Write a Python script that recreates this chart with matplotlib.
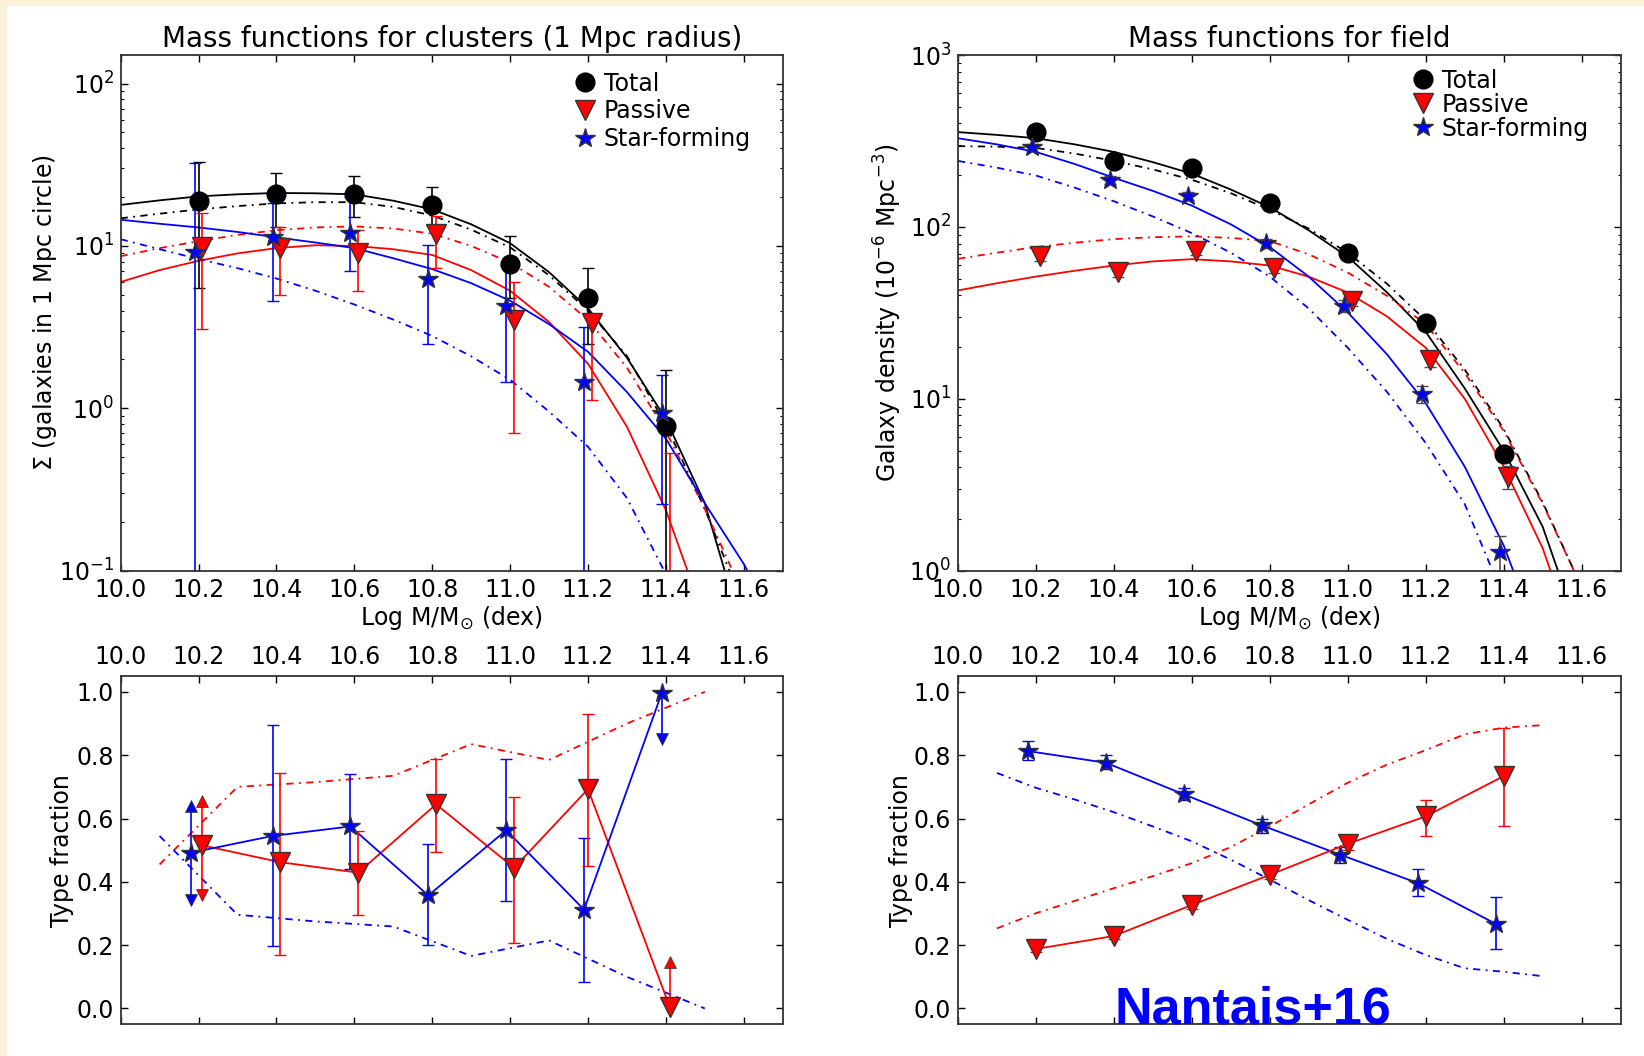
import numpy as np
import matplotlib
matplotlib.use("Agg")
import matplotlib.pyplot as plt
from matplotlib.patches import Rectangle

# ---------------- data ----------------
# top left: clusters (1 Mpc radius)
cl_tot_x = [10.2, 10.4, 10.6, 10.8, 11.0, 11.2, 11.4]
cl_tot_y = [18.8, 20.8, 21.0, 17.8, 7.74, 4.75, 0.775]
cl_tot_lo = [5.5, 13.0, 15.0, 13.5, 4.8, 2.5, 0.0]
cl_tot_hi = [33.0, 28.3, 27.0, 23.2, 11.5, 7.3, 1.71]

cl_pas_x = [10.21, 10.41, 10.61, 10.81, 11.01, 11.21, 11.41]
cl_pas_y = [9.85, 9.7, 9.05, 11.8, 3.49, 3.34, 0.0]
cl_pas_lo = [3.08, 5.0, 5.3, 7.3, 0.705, 1.12, 0.0]
cl_pas_hi = [15.9, 13.0, 12.5, 15.4, 6.0, 3.7, 0.53]

cl_sf_x = [10.19, 10.39, 10.59, 10.79, 10.99, 11.19, 11.39]
cl_sf_y = [9.16, 11.3, 12.0, 6.29, 4.29, 1.46, 0.93]
cl_sf_lo = [0.0, 4.6, 7.0, 2.49, 1.46, 0.0, 0.257]
cl_sf_hi = [32.4, 18.3, 19.9, 10.1, 7.6, 3.15, 1.61]

# curves sampled every 0.1 dex: fits (solid) and models (dash-dot)
curve_x = [10.0, 10.1, 10.2, 10.3, 10.4, 10.5, 10.6, 10.7, 10.8, 10.9,
           11.0, 11.1, 11.2, 11.3, 11.4, 11.5, 11.6, 11.7]
cl_tot_fit = [17.9, 19.1, 20.2, 20.8, 21.2, 21.1, 20.8, 19.0, 16.8, 13.6,
              10.4, 6.9, 4.13, 2.05, 0.857, 0.26, 0.04, 0.005]
cl_tot_mod = [14.8, 15.8, 16.8, 17.6, 18.3, 18.6, 18.6, 17.4, 15.4, 12.6,
              9.8, 6.6, 4.0, 2.1, 0.79, 0.24, 0.06, 0.01]
cl_pas_fit = [6.0, 7.1, 8.1, 9.0, 9.7, 10.1, 10.0, 9.55, 8.8, 7.1,
              5.3, 3.4, 1.88, 0.77, 0.236, 0.05, 0.006, 0.001]
cl_pas_mod = [8.65, 9.7, 10.7, 11.7, 12.5, 13.0, 13.2, 12.8, 11.9, 10.0,
              7.9, 5.6, 3.5, 1.78, 0.72, 0.24, 0.07, 0.01]
cl_sf_fit = [14.5, 13.7, 13.0, 12.2, 11.3, 10.5, 9.7, 8.4, 7.2, 5.9,
             4.6, 3.3, 2.23, 1.26, 0.65, 0.26, 0.11, 0.04]
cl_sf_mod = [11.0, 9.55, 8.3, 7.3, 6.3, 5.3, 4.36, 3.52, 2.79, 2.09,
             1.5, 0.955, 0.58, 0.28, 0.095, 0.02, 0.003, 0.0005]

# top right: field
fd_tot_x = [10.2, 10.4, 10.6, 10.8, 11.0, 11.2, 11.4]
fd_tot_y = [355, 243, 221, 138, 70.6, 27.5, 4.78]
fd_tot_err = [15, 12, 10, 7, 4, 2, 0.5]

fd_pas_x = [10.21, 10.41, 10.61, 10.81, 11.01, 11.21, 11.41]
fd_pas_y = [67.6, 54.7, 72.4, 57.7, 37.0, 16.9, 3.53]
fd_pas_err = [4, 3.5, 4, 3.5, 2.5, 1.5, 0.55]

fd_sf_x = [10.19, 10.39, 10.59, 10.79, 10.99, 11.19, 11.39]
fd_sf_y = [290, 188, 151, 80.5, 34.8, 10.7, 1.29]
fd_sf_err = [14, 10, 8, 5, 3, 1.2, 0.3]

fd_tot_fit = [356, 343, 328, 302, 273, 238, 204, 165, 130, 95.5,
              67, 41.7, 24.5, 11.5, 4.98, 1.8, 0.4, 0.05]
fd_tot_mod = [295, 293, 288, 267, 242, 216, 188, 157, 126, 97.7,
              70.6, 46.8, 28.6, 14.8, 6.67, 2.5, 0.8, 0.15]
fd_pas_fit = [42.7, 47, 51.4, 55.6, 59.6, 63, 64.9, 63, 59.6, 51.3,
              41.5, 30.2, 19.8, 10, 4.03, 1.35, 0.3, 0.04]
fd_pas_mod = [65.2, 70.8, 76.4, 80.9, 84.9, 87.1, 88.1, 86.3, 82.7, 69.2,
              54.2, 39.8, 27.2, 14.1, 6.49, 2.45, 0.8, 0.15]
fd_sf_fit = [328, 302, 273, 232, 193, 162, 133, 103.5, 76.4, 51.3,
             31.8, 18.2, 9.42, 4.03, 1.40, 0.35, 0.05, 0.005]
fd_sf_mod = [242, 221, 199, 169, 141, 115, 92, 70.8, 51.4, 33.5,
             19.8, 11.0, 5.53, 2.44, 0.7, 0.2, 0.03, 0.003]

# bottom left: type fractions, clusters
fc_sf_x = [10.18, 10.39, 10.59, 10.79, 10.99, 11.19, 11.39]
fc_sf_y = [0.492, 0.545, 0.575, 0.357, 0.563, 0.312, 0.998]
fc_sf_lo = [0.344, 0.196, 0.441, 0.201, 0.339, 0.085, 0.852]
fc_sf_hi = [0.640, 0.894, 0.741, 0.519, 0.788, 0.540, 0.998]

fc_pas_x = [10.21, 10.41, 10.61, 10.81, 11.01, 11.2, 11.41]
fc_pas_y = [0.515, 0.462, 0.429, 0.645, 0.444, 0.693, 0.005]
fc_pas_lo = [0.360, 0.169, 0.296, 0.495, 0.206, 0.450, 0.005]
fc_pas_hi = [0.656, 0.744, 0.560, 0.788, 0.667, 0.929, 0.148]

fc_mod_x = [10.1, 10.3, 10.5, 10.7, 10.9, 11.1, 11.3, 11.5]
fc_pas_mod = [0.455, 0.70, 0.715, 0.735, 0.835, 0.785, 0.90, 1.0]
fc_sf_mod = [0.545, 0.296, 0.275, 0.259, 0.166, 0.215, 0.10, 0.0]

# bottom right: type fractions, field
ff_sf_x = [10.18, 10.38, 10.58, 10.78, 10.98, 11.18, 11.38]
ff_sf_y = [0.813, 0.776, 0.676, 0.578, 0.486, 0.396, 0.267]
ff_sf_lo = [0.784, 0.755, 0.660, 0.555, 0.460, 0.356, 0.187]
ff_sf_hi = [0.845, 0.800, 0.695, 0.600, 0.510, 0.440, 0.351]

ff_pas_x = [10.2, 10.4, 10.6, 10.8, 11.0, 11.2, 11.4]
ff_pas_y = [0.188, 0.229, 0.327, 0.422, 0.520, 0.607, 0.734]
ff_pas_lo = [0.178, 0.219, 0.315, 0.410, 0.500, 0.546, 0.575]
ff_pas_hi = [0.198, 0.239, 0.339, 0.434, 0.540, 0.657, 0.885]

ff_mod_x = [10.1, 10.2, 10.3, 10.4, 10.5, 10.6, 10.7, 10.8, 10.9, 11.0, 11.1, 11.2, 11.3, 11.4, 11.5]
ff_pas_mod = [0.253, 0.301, 0.34, 0.38, 0.418, 0.459, 0.51, 0.575, 0.645, 0.713, 0.77, 0.816, 0.866, 0.887, 0.895]
ff_sf_mod = [0.744, 0.697, 0.66, 0.62, 0.575, 0.528, 0.47, 0.407, 0.342, 0.28, 0.22, 0.169, 0.127, 0.116, 0.102]

xticks = [10.0, 10.2, 10.4, 10.6, 10.8, 11.0, 11.2, 11.4, 11.6]
labels = ["Total", "Passive", "Star-forming"]

# ---------------- plotting ----------------
plt.rcParams["font.family"] = "DejaVu Sans"
plt.rcParams["font.size"] = 17
plt.rcParams["mathtext.default"] = "regular"

BLUE = "#0000ff"
RED = "#ff0000"
DD = (0, (4, 3, 1, 3))
EDGE = "0.2"
FS = 17

fig = plt.figure(figsize=(16.44, 10.56), dpi=100, facecolor="#fcf1d8")
fig.patches.append(Rectangle((7 / 1644, 0), 1, 1 - 6 / 1056, transform=fig.transFigure,
                             facecolor="white", edgecolor="none", zorder=-10))

ax_cl = fig.add_axes([0.0734, 0.4596, 0.4027, 0.4883])
ax_fd = fig.add_axes([0.5827, 0.4596, 0.4031, 0.4883])
ax_fc = fig.add_axes([0.0734, 0.0300, 0.4027, 0.3298])
ax_ff = fig.add_axes([0.5827, 0.0300, 0.4031, 0.3298])


def style(ax):
    ax.set_xlim(10.0, 11.7)
    ax.set_xticks(xticks)
    ax.set_xticklabels(["%.1f" % t for t in xticks])
    ax.tick_params(which="both", direction="in", top=True, right=True)
    ax.tick_params(which="major", length=5, width=1, pad=5, labelsize=FS)
    ax.tick_params(which="minor", length=2.5, width=0.8)
    for s in ax.spines.values():
        s.set_linewidth(1.3)
        s.set_color("0.2")


def errs(y, lo, hi):
    y = np.array(y, float)
    return [np.clip(y - np.array(lo), 0, None), np.clip(np.array(hi) - y, 0, None)]


def curves(ax, tf, tm, pf, pm, sf, sm):
    ax.plot(curve_x, tf, color="k", lw=1.3)
    ax.plot(curve_x, tm, color="k", lw=1.3, ls=DD)
    ax.plot(curve_x, pf, color=RED, lw=1.3)
    ax.plot(curve_x, pm, color=RED, lw=1.3, ls=DD)
    ax.plot(curve_x, sf, color=BLUE, lw=1.3)
    ax.plot(curve_x, sm, color=BLUE, lw=1.3, ls=DD)


# --- clusters mass function
ax = ax_cl
ax.set_yscale("log")
curves(ax, cl_tot_fit, cl_tot_mod, cl_pas_fit, cl_pas_mod, cl_sf_fit, cl_sf_mod)
ax.errorbar(cl_tot_x, cl_tot_y, yerr=errs(cl_tot_y, cl_tot_lo, cl_tot_hi), fmt="o", color="k",
            ms=13.5, mec="k", ecolor="k", elinewidth=1.2, capsize=4, label=labels[0])
ax.errorbar(cl_pas_x, cl_pas_y, yerr=errs(cl_pas_y, cl_pas_lo, cl_pas_hi), fmt="v", color=RED,
            ms=15, mec=EDGE, ecolor=RED, elinewidth=1.2, capsize=4, label=labels[1])
ax.errorbar(cl_sf_x, cl_sf_y, yerr=errs(cl_sf_y, cl_sf_lo, cl_sf_hi), fmt="*", color=BLUE,
            ms=15, mec=EDGE, ecolor=BLUE, elinewidth=1.2, capsize=4, label=labels[2])
ax.set_ylim(0.1, 150)
style(ax)
ax.set_title("Mass functions for clusters (1 Mpc radius)", fontsize=20, pad=6)
ax.set_xlabel(r"Log M/M$_{\odot}$ (dex)", fontsize=FS, labelpad=2)
ax.set_ylabel(r"$\Sigma$ (galaxies in 1 Mpc circle)", fontsize=FS, labelpad=0)
h, l = ax.get_legend_handles_labels()
ax.legend([x[0] for x in h], l, loc="upper right", bbox_to_anchor=(0.966, 0.986), frameon=False,
          numpoints=1, handletextpad=0.4, labelspacing=0.15, fontsize=FS, borderaxespad=0,
          handlelength=0.8)

# --- field mass function
ax = ax_fd
ax.set_yscale("log")
curves(ax, fd_tot_fit, fd_tot_mod, fd_pas_fit, fd_pas_mod, fd_sf_fit, fd_sf_mod)
ax.errorbar(fd_tot_x, fd_tot_y, yerr=fd_tot_err, fmt="o", color="k", ms=13.5, mec="k",
            ecolor="0.3", elinewidth=1.2, capsize=4, label=labels[0])
ax.errorbar(fd_pas_x, fd_pas_y, yerr=fd_pas_err, fmt="v", color=RED, ms=15, mec=EDGE,
            ecolor="0.3", elinewidth=1.2, capsize=4, label=labels[1])
ax.errorbar(fd_sf_x, fd_sf_y, yerr=fd_sf_err, fmt="*", color=BLUE, ms=15, mec=EDGE,
            ecolor="0.3", elinewidth=1.2, capsize=4, label=labels[2])
ax.set_ylim(1, 1000)
style(ax)
ax.set_title("Mass functions for field", fontsize=20, pad=6)
ax.set_xlabel(r"Log M/M$_{\odot}$ (dex)", fontsize=FS, labelpad=2)
ax.set_ylabel(r"Galaxy density (10$^{-6}$ Mpc$^{-3}$)", fontsize=FS)
h, l = ax.get_legend_handles_labels()
ax.legend([x[0] for x in h], l, loc="upper right", bbox_to_anchor=(0.966, 0.992), frameon=False,
          numpoints=1, handletextpad=0.4, labelspacing=0.0, fontsize=FS, borderaxespad=0,
          handlelength=0.8)

# --- cluster fractions
ax = ax_fc
ax.plot(fc_mod_x, fc_pas_mod, color=RED, lw=1.3, ls=DD)
ax.plot(fc_mod_x, fc_sf_mod, color=BLUE, lw=1.3, ls=DD)
ax.plot(fc_pas_x, fc_pas_y, color=RED, lw=1.3)
ax.plot(fc_sf_x, fc_sf_y, color=BLUE, lw=1.3)
lim_sf = [0, 6]
lim_pas = [0, 6]
for i in range(len(fc_sf_x)):
    cap = 0 if i in lim_sf else 4
    ax.errorbar(fc_sf_x[i], fc_sf_y[i], yerr=[[fc_sf_y[i] - fc_sf_lo[i]], [fc_sf_hi[i] - fc_sf_y[i]]],
                fmt="*", color=BLUE, ms=15, mec=EDGE, ecolor=BLUE, elinewidth=1.2, capsize=cap)
for i in range(len(fc_pas_x)):
    cap = 0 if i in lim_pas else 4
    ax.errorbar(fc_pas_x[i], fc_pas_y[i], yerr=[[fc_pas_y[i] - fc_pas_lo[i]], [fc_pas_hi[i] - fc_pas_y[i]]],
                fmt="v", color=RED, ms=15, mec=EDGE, ecolor=RED, elinewidth=1.2, capsize=cap)
# limit arrows
ax.plot([fc_sf_x[0]], [fc_sf_hi[0]], "^", color=BLUE, ms=8, mec=EDGE, mew=0.5)
ax.plot([fc_sf_x[0], fc_sf_x[6]], [fc_sf_lo[0], fc_sf_lo[6]], "v", color=BLUE, ms=8, mec=EDGE, mew=0.5, ls="none")
ax.plot([fc_pas_x[0], fc_pas_x[6]], [fc_pas_hi[0], fc_pas_hi[6]], "^", color=RED, ms=8, mec=EDGE, mew=0.5, ls="none")
ax.plot([fc_pas_x[0]], [fc_pas_lo[0]], "v", color=RED, ms=8, mec=EDGE, mew=0.5)
ax.set_ylim(-0.05, 1.05)
style(ax)
ax.tick_params(labeltop=True, labelbottom=False)
ax.set_ylabel("Type fraction", fontsize=FS, labelpad=1.5)

# --- field fractions
ax = ax_ff
ax.plot(ff_mod_x, ff_pas_mod, color=RED, lw=1.3, ls=DD)
ax.plot(ff_mod_x, ff_sf_mod, color=BLUE, lw=1.3, ls=DD)
ax.errorbar(ff_sf_x, ff_sf_y, yerr=errs(ff_sf_y, ff_sf_lo, ff_sf_hi), fmt="-*", color=BLUE, lw=1.3,
            ms=15, mec=EDGE, ecolor=BLUE, elinewidth=1.2, capsize=4)
ax.errorbar(ff_pas_x, ff_pas_y, yerr=errs(ff_pas_y, ff_pas_lo, ff_pas_hi), fmt="-v", color=RED, lw=1.3,
            ms=15, mec=EDGE, ecolor=RED, elinewidth=1.2, capsize=4)
ax.set_ylim(-0.05, 1.05)
style(ax)
ax.tick_params(labeltop=True, labelbottom=False)
ax.set_ylabel("Type fraction", fontsize=FS, labelpad=0.2)

fig.text(0.762, 0.044, "Nantais+16", color=BLUE, fontsize=37.5, fontweight="bold",
         family="Liberation Sans", ha="center", va="center")

fig.savefig("out.png", dpi=100, facecolor=fig.get_facecolor())
